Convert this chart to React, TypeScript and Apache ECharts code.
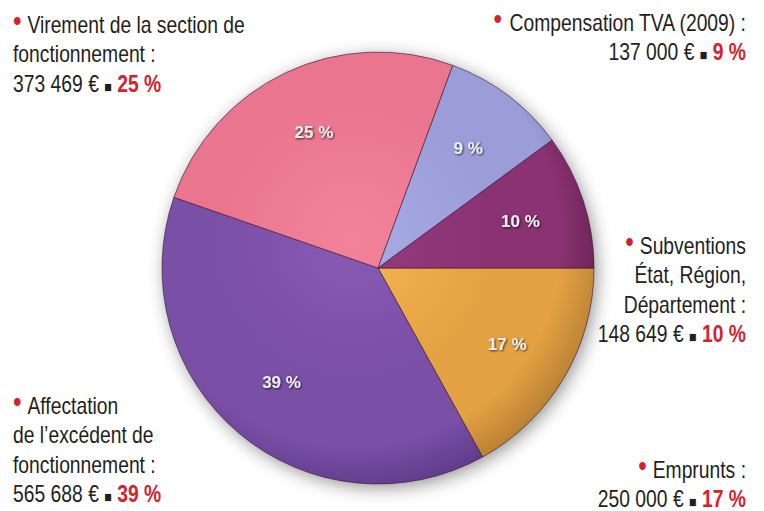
import React, { useEffect, useRef } from 'react';
import * as echarts from 'echarts';

// ---- data ----
const categories = [
  'Emprunts',
  "Affectation de l'excédent de fonctionnement",
  'Virement de la section de fonctionnement',
  'Compensation TVA (2009)',
  'Subventions État, Région, Département',
];
const amounts = [250000, 565688, 373469, 137000, 148649];
const percents = [17, 39, 25, 9, 10];
const labelLines = [
  ['Emprunts :'],
  ['Affectation', 'de l’excédent de', 'fonctionnement :'],
  ['Virement de la section de', 'fonctionnement :'],
  ['Compensation TVA (2009) :'],
  ['Subventions', 'État, Région,', 'Département :'],
];

// ---- styling / layout ----
const sliceColors = [
  ['#f5b452', '#e5a244', '#bb8234'],
  ['#885ab4', '#7a4fa6', '#603b8a'],
  ['#f2839b', '#ea758e', '#c65e75'],
  ['#a8ace5', '#9a9dd8', '#787bba'],
  ['#963b7e', '#8a3272', '#66204f'],
];
const CX = 378;
const CY = 268;
const R = 216;
const FONT = 'Liberation Sans';
const SCALE_X = 0.84;
// first baseline, x anchor, alignment of each text block (same order as data)
const blockLayout = [
  { x: 746, y: 477, align: 'right' },
  { x: 13, y: 413, align: 'left' },
  { x: 13, y: 32, align: 'left' },
  { x: 746, y: 30, align: 'right' },
  { x: 746, y: 253, align: 'right' },
];
const LINE_GAP = 29.5;
const BASELINE_SHIFT = 4;

const fmtAmount = (n: number) =>
  n.toString().replace(/\B(?=(\d{3})+(?!\d))/g, ' ') + ' €';

const tokenBase = {
  fontFamily: FONT,
  fontSize: 23,
  verticalAlign: 'bottom',
  lineHeight: 28,
};
const rich = {
  t: { ...tokenBase, fill: '#231f20' },
  g: { ...tokenBase, fill: '#231f20', width: 7 },
  b: { ...tokenBase, fontSize: 29, fill: '#d3232e' },
  s: { ...tokenBase, fontSize: 15, fill: '#231f20', padding: [0, 0, 1, 0] },
  p: { ...tokenBase, fontWeight: 'bold', fill: '#d3232e' },
};

function buildGraphics() {
  const els: any[] = [];
  els.push({
    type: 'circle',
    z: 0,
    shape: { cx: CX, cy: CY, r: R - 1 },
    style: {
      fill: '#ffffff',
      shadowBlur: 18,
      shadowColor: 'rgba(0,0,0,0.45)',
      shadowOffsetX: 3,
      shadowOffsetY: 4,
    },
  });
  categories.forEach((_, i) => {
    const lay = blockLayout[i];
    const lines = labelLines[i].map((l, j) =>
      j === 0 ? `{b|•}{g| }{t|${l}}` : `{t|${l}}`
    );
    lines.push(`{t|${fmtAmount(amounts[i])} }{s|■}{p| ${percents[i]} %}`);
    lines.forEach((txt, j) => {
      els.push({
        type: 'text',
        z: 10,
        x: lay.x,
        y: lay.y + j * LINE_GAP + BASELINE_SHIFT,
        scaleX: SCALE_X,
        style: {
          text: txt,
          rich,
          align: lay.align,
          verticalAlign: 'bottom',
        },
      });
    });
  });
  return els;
}

export default function App() {
  const ref = useRef<HTMLDivElement>(null);
  useEffect(() => {
    if (!ref.current) return;
    const chart = echarts.init(ref.current, null, { renderer: 'svg' });
    const data = categories.map((name, i) => ({
      name,
      value: amounts[i],
      itemStyle: {
        color: new echarts.graphic.RadialGradient(
          CX - 25,
          CY - 30,
          255,
          [
            { offset: 0, color: sliceColors[i][0] },
            { offset: 0.55, color: sliceColors[i][1] },
            { offset: 0.82, color: sliceColors[i][1] },
            { offset: 1, color: sliceColors[i][2] },
          ],
          true
        ),
      },
    }));
    chart.setOption({
      animation: false,
      backgroundColor: '#ffffff',
      graphic: { elements: buildGraphics() },
      series: [
        {
          type: 'pie',
          z: 2,
          center: [CX, CY],
          radius: [0, R],
          startAngle: 0,
          clockwise: true,
          avoidLabelOverlap: false,
          silent: true,
          label: { show: false },
          labelLine: { show: false },
          itemStyle: { borderColor: 'rgba(55,20,45,0.6)', borderWidth: 1 },
          data,
        },
        {
          type: 'pie',
          z: 3,
          center: [CX, CY],
          radius: [R * 0.36, R],
          startAngle: 0,
          clockwise: true,
          avoidLabelOverlap: false,
          silent: true,
          itemStyle: { color: 'rgba(0,0,0,0)', borderWidth: 0 },
          labelLine: { show: false },
          label: {
            show: true,
            position: 'inside',
            formatter: (p: any) => `${percents[p.dataIndex]} %`,
            color: '#ececec',
            fontFamily: FONT,
            fontWeight: 'bold',
            fontSize: 17,
            textShadowColor: 'rgba(0,0,0,0.75)',
            textShadowBlur: 2,
            textShadowOffsetX: 1,
            textShadowOffsetY: 1,
          },
          data: categories.map((name, i) => ({ name, value: amounts[i] })),
        },
      ],
    });
    return () => chart.dispose();
  }, []);
  return (
    <div
      ref={ref}
      style={{ position: 'absolute', left: 0, top: 0, width: 764, height: 511 }}
    />
  );
}
